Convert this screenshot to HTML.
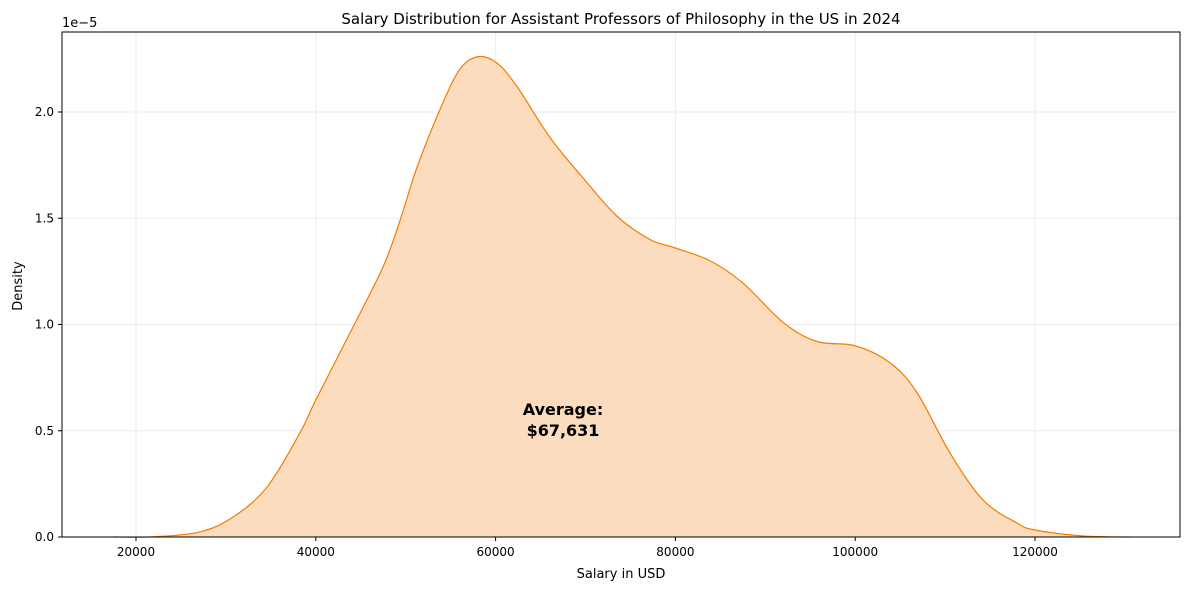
<!DOCTYPE html>
<html><head><meta charset="utf-8">
<style>
body{margin:0;background:#fff;font-family:"DejaVu Sans","Liberation Sans",sans-serif;}
svg text{font-family:"DejaVu Sans","Liberation Sans",sans-serif;}
</style></head>
<body>
<svg id="chart" width="1189" height="590" xmlns="http://www.w3.org/2000/svg">
<rect width="1189" height="590" fill="#fff"/>
<g id="grid"></g>
<path id="area" fill="#fbdcbf" stroke="none"/>
<path id="line" fill="none" stroke="#f57c00" stroke-width="1.2"/>
<g id="ticks"></g>
<rect x="62" y="32" width="1118" height="505" fill="none" stroke="#000" stroke-width="1"/>
<text x="621" y="24" font-size="15" text-anchor="middle">Salary Distribution for Assistant Professors of Philosophy in the US in 2024</text>
<text x="621" y="578" font-size="13" text-anchor="middle">Salary in USD</text>
<text x="22" y="286" font-size="13" text-anchor="middle" transform="rotate(-90 22 286)">Density</text>
<text x="62" y="27" font-size="13">1e−5</text>
<text x="563" y="415" font-size="16" font-weight="bold" text-anchor="middle">Average:</text>
<text x="563" y="436" font-size="16" font-weight="bold" text-anchor="middle">$67,631</text>
</svg>
<script>
const salaries=[17500,22000,27100,30800,34570,38240,40000,43800,47470,49370,51260,53800,56000,58040,60160,62380,66050,69720,73500,77175,80000,83850,87520,91970,95750,100000,103870,106870,110550,114220,117990,120000,125330,130500];
const densities=[0,0.001,0.024,0.094,0.235,0.49,0.645,0.96,1.27,1.49,1.74,2.01,2.20,2.26,2.23,2.12,1.88,1.69,1.51,1.40,1.36,1.30,1.195,1.01,0.92,0.90,0.82,0.68,0.395,0.174,0.066,0.033,0.005,0];
const xTicks=[20000,40000,60000,80000,100000,120000];
const yTicks=[0,0.5,1.0,1.5,2.0];
const yTickLabels=["0.0","0.5","1.0","1.5","2.0"];
const X=v=>136+(v-20000)*0.00899;
const Y=v=>537-v*212.5;
const ns="http://www.w3.org/2000/svg";
const grid=document.getElementById('grid'),ticks=document.getElementById('ticks');
function mk(tag,attrs,parent){const e=document.createElementNS(ns,tag);for(const k in attrs)e.setAttribute(k,attrs[k]);parent.appendChild(e);return e;}
xTicks.forEach(t=>{
 const g=mk('line',{x1:X(t),x2:X(t),y1:32,y2:537,stroke:'#ebebeb','stroke-width':1},grid);
 
 
 const l=mk('line',{x1:X(t),x2:X(t),y1:537,y2:541,stroke:'#000'},ticks);
 
 
 const tx=mk('text',{x:X(t),y:556,'font-size':12,'text-anchor':'middle'},ticks);tx.textContent=t;
 
 
});
yTicks.forEach((t,i)=>{
 const g=mk('line',{x1:62,x2:1180,y1:Y(t),y2:Y(t),stroke:'#ebebeb','stroke-width':1},grid);
 
 
 const l=mk('line',{x1:58,x2:62,y1:Y(t),y2:Y(t),stroke:'#000'},ticks);
 
 
 const tx=mk('text',{x:54,y:Y(t)+4,'font-size':12,'text-anchor':'end'},ticks);tx.textContent=yTickLabels[i];
 
 
});
const pts=salaries.map((s,i)=>[X(s),Y(densities[i])]);
let d=`M${pts[0][0]},${pts[0][1]}`;
for(let i=0;i<pts.length-1;i++){
 const p0=pts[i-1]||pts[i],p1=pts[i],p2=pts[i+1],p3=pts[i+2]||p2;
 const c1=[p1[0]+(p2[0]-p0[0])/6,p1[1]+(p2[1]-p0[1])/6];
 const c2=[p2[0]-(p3[0]-p1[0])/6,p2[1]-(p3[1]-p1[1])/6];
 d+=` C${c1[0]},${c1[1]} ${c2[0]},${c2[1]} ${p2[0]},${p2[1]}`;
}
document.getElementById('line').setAttribute('d',d);
document.getElementById('area').setAttribute('d',d+` L${pts[pts.length-1][0]},537 L${pts[0][0]},537 Z`);
</script>
</body></html>
